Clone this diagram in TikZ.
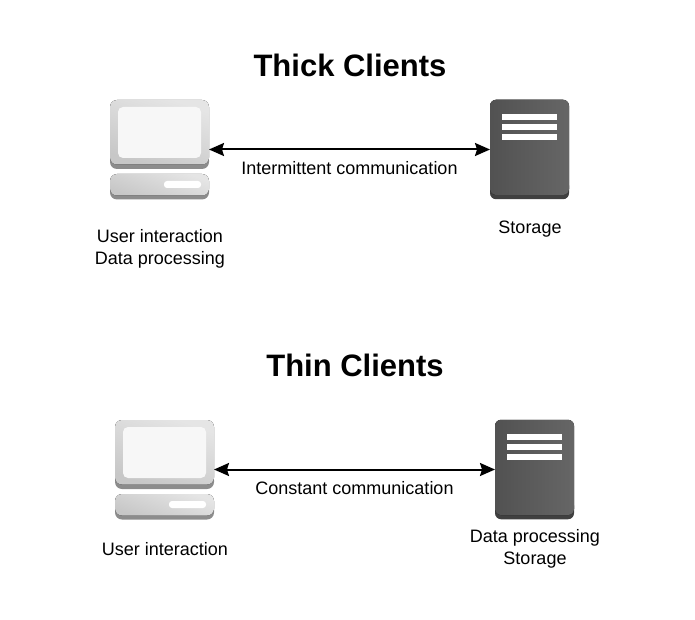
\documentclass[tikz,border=0pt]{standalone}
\usepackage{fontspec}
\setmainfont{Liberation Sans}
\usetikzlibrary{arrows.meta,calc,positioning}

\tikzset{
	title/.style={font=\bfseries\fontsize{31}{36}\selectfont},
	caption/.style={font=\fontsize{18}{22}\selectfont,align=center,inner sep=0pt},
	iconbox/.style={minimum width=#1,minimum height=99.5pt,inner sep=0pt,outer sep=0pt},
	computer/.pic={
		\node[iconbox=99pt] (-box) at (0,0) {};
		\fill[rounded corners=7pt,fill=black!45] (-49.5,4) rectangle (49.5,19.5);
		\fill[rounded corners=7pt,bottom color=black!22,top color=black!10,shading angle=-20] (-49.5,-49.5) rectangle (49.5,15);
		\fill[rounded corners=5pt,fill=black!3] (-41.5,-42.5) rectangle (41.5,8.5);
		\fill[rounded corners=7pt,fill=black!45] (-49.5,32) rectangle (49.5,50);
		\fill[rounded corners=7pt,bottom color=black!22,top color=black!10,shading angle=-20] (-49.5,24.5) rectangle (49.5,46);
		\fill[rounded corners=3pt,fill=white] (4.5,31.5) rectangle (41.5,38.5);
	},
	server/.pic={
		\node[iconbox=79pt] (-box) at (0,0) {};
		\fill[rounded corners=6pt,fill=black!75] (-39.5,30) rectangle (39.5,49.75);
		\fill[rounded corners=6pt,left color=black!68,right color=black!60] (-39.5,-49.75) rectangle (39.5,45.5);
		\foreach \y in {-35.5,-25.5,-15.5}
			\fill[white] (-28,\y) rectangle (27.5,\y+6);
	}
}

\begin{document}
\begin{tikzpicture}[x=1pt,y=-1pt,>={Stealth[length=15pt,width=13pt,inset=2pt]},line width=2pt]
	\useasboundingbox (0,0) rectangle (695,620);
	% top half
	\node[title] (thicktitle) at (350,65) {Thick Clients};
	\pic (thickpc) at (159.5,149.5) {computer};
	\pic (thicksrv) at (529.5,149.5) {server};
	\path[<->] (thickpc-box) edge node[caption,below=10.5pt] (thickcomm) {Intermittent communication} (thicksrv-box);
	\node[caption] (thickpclabel) at (160,249) {User interaction\\Data processing};
	\node[caption] (thicksrvlabel) at (530,229) {Storage};
	% bottom half
	\node[title] (thintitle) at (355,365) {Thin Clients};
	\pic (thinpc) at (164.5,469.5) {computer};
	\pic (thinsrv) at (534.5,469.5) {server};
	\path[<->] (thinpc-box) edge node[caption,below=10.5pt] (thincomm) {Constant communication} (thinsrv-box);
	\node[caption] (thinpclabel) at (165,549) {User interaction};
	\node[caption] (thinsrvlabel) at (535,549) {Data processing\\Storage};
\end{tikzpicture}
\end{document}
